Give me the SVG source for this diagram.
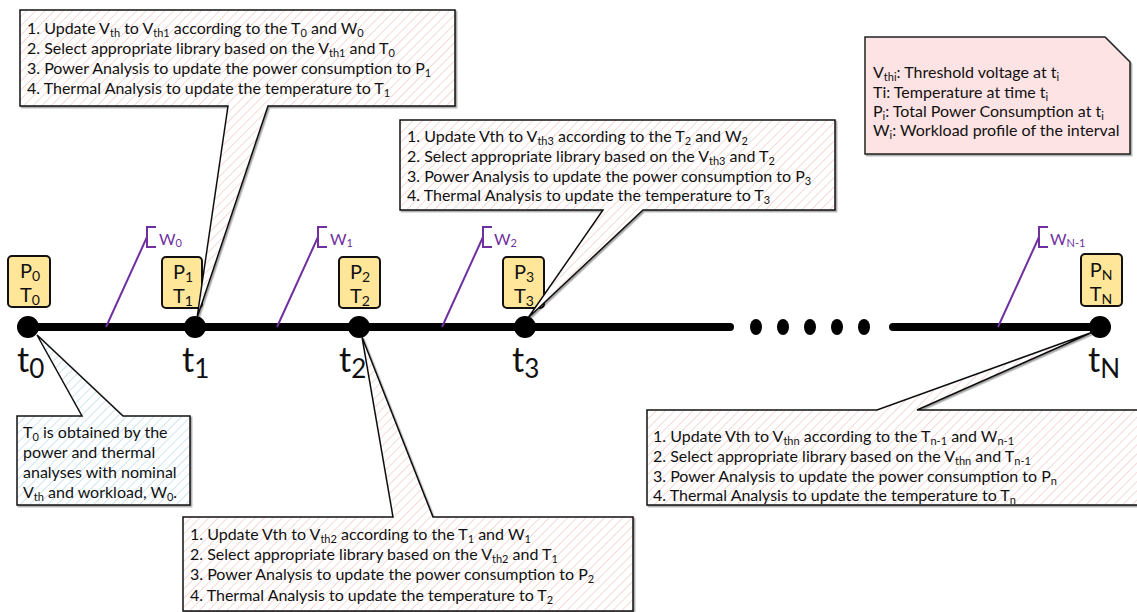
<svg xmlns="http://www.w3.org/2000/svg" width="1137" height="612" viewBox="0 0 1137 612">
  <style>
    .txt { font-family: Lato, "Open Sans", sans-serif; font-size: 16px; fill: #111; }
    .s { font-size: 11px; }
    .call { stroke: #111; stroke-width: 1.5; stroke-linejoin: miter; }
    .red { fill: url(#hatchRed); }
    .blue { fill: url(#hatchBlue); }
    .pt { fill: #FFE699; stroke: #111; stroke-width: 2; }
    .ptxt { font-family: Lato, "Open Sans", sans-serif; font-size: 20px; fill: #111; text-anchor: middle; }
    .ps { font-size: 14px; }
    .tl { font-family: Lato, "Open Sans", sans-serif; font-size: 34px; fill: #111; }
    .tls { font-size: 26px; }
    .wl { stroke: #7030A0; stroke-width: 2; fill: none; }
    .wt { font-family: Lato, "Open Sans", sans-serif; font-size: 16px; fill: #7030A0; }
    .ws { font-size: 11px; }
    .axis { stroke: #000; stroke-width: 8; stroke-linecap: round; fill: none; }
  </style>
  <defs>
    <pattern id="hatchRed" width="6.5" height="6.5" patternUnits="userSpaceOnUse" patternTransform="rotate(45)">
      <rect width="6.5" height="6.5" fill="#fff"/>
      <line x1="0" y1="0" x2="0" y2="6.5" stroke="#f1c6c6" stroke-width="1.3"/>
    </pattern>
    <pattern id="hatchBlue" width="6.5" height="6.5" patternUnits="userSpaceOnUse" patternTransform="rotate(45)">
      <rect width="6.5" height="6.5" fill="#fff"/>
      <line x1="0" y1="0" x2="0" y2="6.5" stroke="#b7d7ec" stroke-width="1.3"/>
    </pattern>
    <filter id="shadow" x="-5%" y="-5%" width="110%" height="115%">
      <feDropShadow dx="1.5" dy="1.5" stdDeviation="0.6" flood-color="#000" flood-opacity="0.35"/>
    </filter>
  </defs>

  <!-- timeline axis and dots -->
  <g id="axis">
    <line class="axis" x1="28" y1="327" x2="730" y2="327"/>
    <line class="axis" x1="893" y1="327" x2="1100" y2="327"/>
    <ellipse cx="756" cy="327" rx="6" ry="8"/>
    <ellipse cx="783" cy="327" rx="6" ry="8"/>
    <ellipse cx="810" cy="327" rx="6" ry="8"/>
    <ellipse cx="837" cy="327" rx="6" ry="8"/>
    <ellipse cx="864" cy="327" rx="6" ry="8"/>
  </g>

  <!-- workload interval markers -->
  <g id="connectors">
    <path class="wl" d="M106,327 L147,237 M156,227 H147 V247 H156"/>
    <path class="wl" d="M277,327 L318,237 M327,227 H318 V247 H327"/>
    <path class="wl" d="M442,327 L483,237 M492,227 H483 V247 H492"/>
    <path class="wl" d="M998,327 L1039,237 M1048,227 H1039 V247 H1048"/>
    <text class="wt" x="159" y="245">W<tspan class="ws" dy="2">0</tspan></text>
    <text class="wt" x="330" y="245">W<tspan class="ws" dy="2">1</tspan></text>
    <text class="wt" x="494" y="245">W<tspan class="ws" dy="2">2</tspan></text>
    <text class="wt" x="1050" y="245">W<tspan class="ws" dy="2">N-1</tspan></text>
  </g>

  <!-- time points -->
  <g id="t0">
    <rect class="pt" x="8" y="256" width="42" height="51" rx="4"/>
    <text class="ptxt" x="30" y="278">P<tspan class="ps" dy="3">0</tspan></text>
    <text class="ptxt" x="30" y="302">T<tspan class="ps" dy="3">0</tspan></text>
    <circle cx="28" cy="327" r="11"/>
    <text class="tl" x="17" y="372">t<tspan class="tls" dy="6">0</tspan></text>
  </g>
  <g id="t1">
    <rect class="pt" x="162" y="257" width="40" height="51" rx="4"/>
    <text class="ptxt" x="183" y="279">P<tspan class="ps" dy="3">1</tspan></text>
    <text class="ptxt" x="183" y="303">T<tspan class="ps" dy="3">1</tspan></text>
    <circle cx="195" cy="327" r="11"/>
    <text class="tl" x="182" y="372">t<tspan class="tls" dy="6">1</tspan></text>
  </g>
  <g id="t2">
    <rect class="pt" x="339" y="257" width="41" height="51" rx="4"/>
    <text class="ptxt" x="360" y="279">P<tspan class="ps" dy="3">2</tspan></text>
    <text class="ptxt" x="360" y="303">T<tspan class="ps" dy="3">2</tspan></text>
    <circle cx="359" cy="327" r="11"/>
    <text class="tl" x="339" y="372">t<tspan class="tls" dy="6">2</tspan></text>
  </g>
  <g id="t3">
    <rect class="pt" x="503" y="257" width="41" height="51" rx="4"/>
    <text class="ptxt" x="524" y="279">P<tspan class="ps" dy="3">3</tspan></text>
    <text class="ptxt" x="524" y="303">T<tspan class="ps" dy="3">3</tspan></text>
    <circle cx="525" cy="327" r="11"/>
    <text class="tl" x="512" y="372">t<tspan class="tls" dy="6">3</tspan></text>
  </g>
  <g id="tN">
    <rect class="pt" x="1081" y="254" width="41" height="52" rx="4"/>
    <text class="ptxt" x="1101" y="277">P<tspan class="ps" dy="3">N</tspan></text>
    <text class="ptxt" x="1101" y="301">T<tspan class="ps" dy="3">N</tspan></text>
    <circle cx="1100" cy="327" r="11"/>
    <text class="tl" x="1088" y="372">t<tspan class="tls" dy="6">N</tspan></text>
  </g>

  <!-- callout at t0 -->
  <g id="note-t0">
    <path class="call blue" filter="url(#shadow)" d="M17,416 H82 L37,335 L123,416 H190 V505 H17 Z"/>
    <text class="txt" x="23" y="438">T<tspan class="s" dy="3">0</tspan><tspan dy="-3"> is obtained by the</tspan></text>
    <text class="txt" x="23" y="458">power and thermal</text>
    <text class="txt" x="23" y="478">analyses with nominal</text>
    <text class="txt" x="23" y="498">V<tspan class="s" dy="3">th</tspan><tspan dy="-3"> and workload, W</tspan><tspan class="s" dy="3">0</tspan><tspan dy="-3">.</tspan></text>
  </g>

  <!-- callout at t1 -->
  <g id="note-t1">
    <path class="call red" filter="url(#shadow)" d="M20,10 H455 V106 H268 L197,318 L228,106 H20 Z"/>
    <text class="txt" x="27" y="34">1. Update V<tspan class="s" dy="3">th</tspan><tspan dy="-3"> to V</tspan><tspan class="s" dy="3">th1</tspan><tspan dy="-3"> according to the T</tspan><tspan class="s" dy="3">0</tspan><tspan dy="-3"> and W</tspan><tspan class="s" dy="3">0</tspan></text>
    <text class="txt" x="27" y="54">2. Select appropriate library based on the V<tspan class="s" dy="3">th1</tspan><tspan dy="-3"> and T</tspan><tspan class="s" dy="3">0</tspan></text>
    <text class="txt" x="27" y="74">3. Power Analysis to update the power consumption to P<tspan class="s" dy="3">1</tspan></text>
    <text class="txt" x="27" y="94">4. Thermal Analysis to update the temperature to T<tspan class="s" dy="3">1</tspan></text>
  </g>

  <!-- callout at t2 -->
  <g id="note-t2">
    <path class="call red" filter="url(#shadow)" d="M183,517 H393 L362,337 L433,517 H633 V611 H183 Z"/>
    <text class="txt" x="190" y="540">1. Update Vth to V<tspan class="s" dy="3">th2</tspan><tspan dy="-3"> according to the T</tspan><tspan class="s" dy="3">1</tspan><tspan dy="-3"> and W</tspan><tspan class="s" dy="3">1</tspan></text>
    <text class="txt" x="190" y="560">2. Select appropriate library based on the V<tspan class="s" dy="3">th2</tspan><tspan dy="-3"> and T</tspan><tspan class="s" dy="3">1</tspan></text>
    <text class="txt" x="190" y="580">3. Power Analysis to update the power consumption to P<tspan class="s" dy="3">2</tspan></text>
    <text class="txt" x="190" y="601">4. Thermal Analysis to update the temperature to T<tspan class="s" dy="3">2</tspan></text>
  </g>

  <!-- callout at t3 -->
  <g id="note-t3">
    <path class="call red" filter="url(#shadow)" d="M400,120 H835 V210 H643 L528,318 L603,210 H400 Z"/>
    <text class="txt" x="407" y="142">1. Update Vth to V<tspan class="s" dy="3">th3</tspan><tspan dy="-3"> according to the T</tspan><tspan class="s" dy="3">2</tspan><tspan dy="-3"> and W</tspan><tspan class="s" dy="3">2</tspan></text>
    <text class="txt" x="407" y="162">2. Select appropriate library based on the V<tspan class="s" dy="3">th3</tspan><tspan dy="-3"> and T</tspan><tspan class="s" dy="3">2</tspan></text>
    <text class="txt" x="407" y="182">3. Power Analysis to update the power consumption to P<tspan class="s" dy="3">3</tspan></text>
    <text class="txt" x="407" y="201">4. Thermal Analysis to update the temperature to T<tspan class="s" dy="3">3</tspan></text>
  </g>

  <!-- callout at tN -->
  <g id="note-tN">
    <path class="call red" filter="url(#shadow)" d="M647,410 H877 L1093,332 L917,410 H1145 V505 H647 Z"/>
    <text class="txt" x="653" y="442">1. Update Vth to V<tspan class="s" dy="3">thn</tspan><tspan dy="-3"> according to the T</tspan><tspan class="s" dy="3">n-1</tspan><tspan dy="-3"> and W</tspan><tspan class="s" dy="3">n-1</tspan></text>
    <text class="txt" x="653" y="462">2. Select appropriate library based on the V<tspan class="s" dy="3">thn</tspan><tspan dy="-3"> and T</tspan><tspan class="s" dy="3">n-1</tspan></text>
    <text class="txt" x="653" y="482">3. Power Analysis to update the power consumption to P<tspan class="s" dy="3">n</tspan></text>
    <text class="txt" x="653" y="501">4. Thermal Analysis to update the temperature to T<tspan class="s" dy="3">n</tspan></text>
  </g>

  <!-- legend note with folded corner -->
  <g id="legend">
    <path d="M865,37 H1105 L1130,62 V154 H865 Z" fill="#FDE3E3" stroke="#222" stroke-width="1.5" filter="url(#shadow)"/>
    <text class="txt" x="873" y="78">V<tspan class="s" dy="3">thi</tspan><tspan dy="-3">: Threshold voltage at t</tspan><tspan class="s" dy="3">i</tspan></text>
    <text class="txt" x="873" y="98">Ti: Temperature at time t<tspan class="s" dy="3">i</tspan></text>
    <text class="txt" x="873" y="117">P<tspan class="s" dy="3">i</tspan><tspan dy="-3">: Total Power Consumption at t</tspan><tspan class="s" dy="3">i</tspan></text>
    <text class="txt" x="873" y="136">W<tspan class="s" dy="3">i</tspan><tspan dy="-3">: Workload profile of the interval</tspan></text>
  </g>
</svg>
